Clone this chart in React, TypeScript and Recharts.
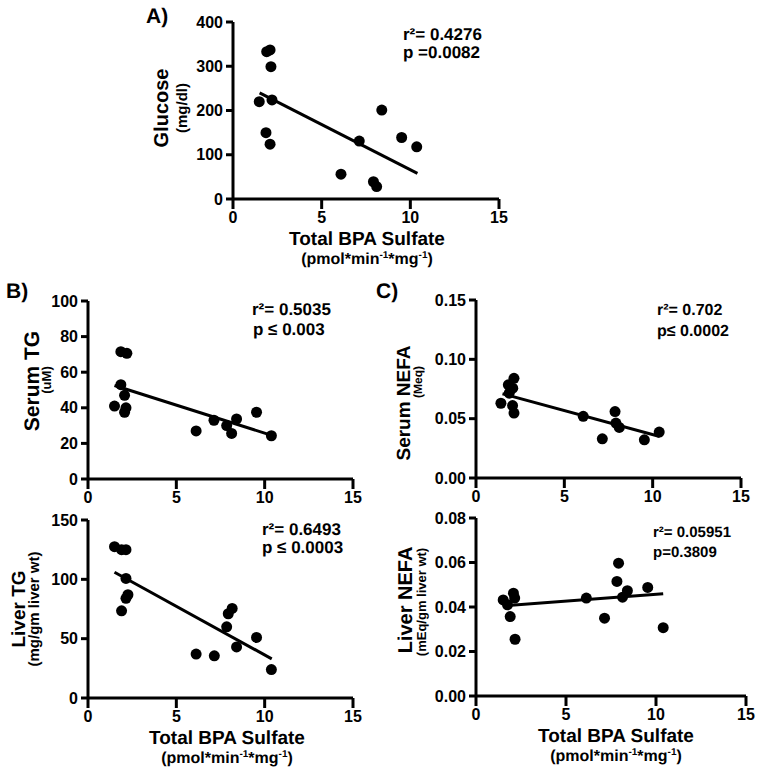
import React from 'react'
import { ScatterChart, Scatter, XAxis, YAxis } from 'recharts'

const FONT = '"Liberation Sans", Arial, Helvetica, sans-serif'

const xTicks = [0, 5, 10, 15]
const fitX = [1.5, 10.4]

// A) glucose
const glucoseX = [1.48, 1.86, 1.9, 2.09, 2.09, 2.14, 2.2, 6.09, 7.12, 7.92, 8.1, 8.39, 9.51, 10.36]
const glucoseY = [220, 150, 333, 337, 124, 299, 224, 56, 131, 39, 28, 201, 139, 118]
const glucoseFit = [240, 58]
const glucoseTicks = [0, 100, 200, 300, 400]

// B) serum TG
const serumTgX = [1.5, 1.86, 2.2, 1.86, 2.07, 2.15, 2.07, 6.12, 7.13, 7.85, 8.13, 8.41, 9.54, 10.38]
const serumTgY = [41, 71.5, 70.6, 53, 47, 40, 37.5, 27, 33, 30, 25.6, 33.7, 37.5, 24.3]
const serumTgFit = [52.5, 24.5]
const serumTgTicks = [0, 20, 40, 60, 80, 100]

// B) liver TG
const liverTgX = [1.5, 1.9, 2.15, 2.15, 1.9, 2.15, 2.26, 6.12, 7.15, 7.85, 7.94, 8.16, 8.41, 9.54, 10.38]
const liverTgY = [127.5, 125, 125, 100.8, 73.5, 84, 87, 37, 35.5, 60, 71, 75.5, 43, 51, 24]
const liverTgFit = [106, 33]
const liverTgTicks = [0, 50, 100, 150]

// C) serum NEFA
const serumNefaX = [1.41, 1.83, 2.15, 2.08, 1.88, 2.07, 2.15, 6.07, 7.15, 7.87, 7.92, 8.11, 9.53, 10.37]
const serumNefaY = [0.063, 0.0785, 0.084, 0.0757, 0.0715, 0.061, 0.0547, 0.052, 0.033, 0.056, 0.0463, 0.0426, 0.0322, 0.0387]
const serumNefaFit = [0.071, 0.035]
const serumNefaTicks = [0, 0.05, 0.1, 0.15]

// C) liver NEFA
const liverNefaX = [1.51, 1.75, 1.9, 2.08, 2.15, 2.17, 6.13, 7.14, 7.83, 7.92, 8.14, 8.41, 9.54, 10.4]
const liverNefaY = [0.0432, 0.041, 0.0357, 0.0462, 0.044, 0.0255, 0.044, 0.035, 0.0515, 0.0597, 0.0444, 0.0473, 0.0488, 0.0307]
const liverNefaFit = [0.0405, 0.046]
const liverNefaTicks = [0, 0.02, 0.04, 0.06, 0.08]

const toPoints = (xs: number[], ys: number[]) => xs.map((x, i) => ({ x, y: ys[i] }))

const Dot = (props: any) => <circle cx={props.cx} cy={props.cy} r={5.5} fill="#000" />
const NoDot = () => <g />

interface Box {
  left: number
  top: number
  width: number
  height: number
}

interface PanelProps {
  box: Box
  xs: number[]
  ys: number[]
  fit: number[]
  yTicks: number[]
  yFormat?: (v: number) => string
}

const Y_AXIS_W = 70
const X_AXIS_H = 40
const PAD_TOP = 10
const PAD_RIGHT = 14

function Panel({ box, xs, ys, fit, yTicks, yFormat }: PanelProps) {
  const width = box.width + Y_AXIS_W + PAD_RIGHT
  const height = box.height + PAD_TOP + X_AXIS_H
  const tickStyle = { fill: '#000', fontSize: 16, fontWeight: 700, fontFamily: FONT }
  const axisStroke = { stroke: '#000', strokeWidth: 3 }
  return (
    <div style={{ position: 'absolute', left: box.left - Y_AXIS_W, top: box.top - PAD_TOP, width, height }}>
      <ScatterChart width={width} height={height} margin={{ top: PAD_TOP, right: PAD_RIGHT, bottom: 0, left: 0 }}>
        <XAxis
          type="number"
          dataKey="x"
          domain={[0, 15]}
          ticks={xTicks}
          interval={0}
          height={X_AXIS_H}
          tickSize={10}
          tickMargin={3}
          axisLine={axisStroke}
          tickLine={axisStroke}
          tick={tickStyle}
        />
        <YAxis
          type="number"
          dataKey="y"
          domain={[yTicks[0], yTicks[yTicks.length - 1]]}
          ticks={yTicks}
          interval={0}
          width={Y_AXIS_W}
          tickSize={7}
          tickMargin={3}
          axisLine={axisStroke}
          tickLine={axisStroke}
          tick={tickStyle}
          tickFormatter={yFormat}
        />
        <Scatter
          data={toPoints(fitX, fit)}
          line={{ stroke: '#000', strokeWidth: 3 }}
          shape={NoDot}
          isAnimationActive={false}
        />
        <Scatter data={toPoints(xs, ys)} shape={Dot} isAnimationActive={false} />
      </ScatterChart>
    </div>
  )
}

const textBase = { fontFamily: FONT, fontWeight: 700, fill: '#000', textRendering: 'geometricPrecision' as const }

function HText({ x, y, size, anchor = 'start', children }: any) {
  return (
    <text x={x} y={y} fontSize={size} textAnchor={anchor} {...textBase}>
      {children}
    </text>
  )
}

function VText({ x, y, size, children }: any) {
  return (
    <text x={0} y={0} transform={`translate(${x},${y}) rotate(-90)`} fontSize={size} textAnchor="middle" {...textBase}>
      {children}
    </text>
  )
}

function XTitle({ x, y }: { x: number; y: number }) {
  return (
    <>
      <HText x={x} y={y} size={19} anchor="middle">Total BPA Sulfate</HText>
      <HText x={x} y={y + 19} size={16} anchor="middle">
        (pmol*min<tspan dy={-6} fontSize={10}>-1</tspan>
        <tspan dy={6}>*mg</tspan>
        <tspan dy={-6} fontSize={10}>-1</tspan>
        <tspan dy={6}>)</tspan>
      </HText>
    </>
  )
}

const fmt2 = (v: number) => v.toFixed(2)

export default function App() {
  return (
    <div style={{ position: 'absolute', left: 0, top: 0, width: 762, height: 775, background: '#fff' }}>
      <Panel box={{ left: 233, top: 22, width: 266, height: 177 }} xs={glucoseX} ys={glucoseY} fit={glucoseFit} yTicks={glucoseTicks} />
      <Panel box={{ left: 88, top: 301, width: 265, height: 178 }} xs={serumTgX} ys={serumTgY} fit={serumTgFit} yTicks={serumTgTicks} />
      <Panel box={{ left: 88, top: 520, width: 265, height: 178 }} xs={liverTgX} ys={liverTgY} fit={liverTgFit} yTicks={liverTgTicks} />
      <Panel box={{ left: 476, top: 300, width: 265, height: 178 }} xs={serumNefaX} ys={serumNefaY} fit={serumNefaFit} yTicks={serumNefaTicks} yFormat={fmt2} />
      <Panel box={{ left: 476, top: 518, width: 270, height: 178 }} xs={liverNefaX} ys={liverNefaY} fit={liverNefaFit} yTicks={liverNefaTicks} yFormat={fmt2} />

      <svg width={762} height={775} style={{ position: 'absolute', left: 0, top: 0, pointerEvents: 'none' }}>
        {/* A */}
        <HText x={146} y={23} size={21}>A)</HText>
        <VText x={168} y={108} size={20}>Glucose</VText>
        <VText x={187} y={108} size={15}>(mg/dl)</VText>
        <HText x={403} y={40} size={17}>r²= 0.4276</HText>
        <HText x={403} y={58} size={17}>p =0.0082</HText>
        <XTitle x={367} y={245} />

        {/* B */}
        <HText x={6} y={298} size={21}>B)</HText>
        <VText x={39} y={381} size={21}>Serum TG</VText>
        <VText x={51} y={380} size={13}>(uM)</VText>
        <HText x={252} y={315} size={17}>r²= 0.5035</HText>
        <HText x={253} y={335} size={17}>p ≤ 0.003</HText>
        <VText x={25} y={609} size={19}>Liver TG</VText>
        <VText x={39} y={609} size={15}>(mg/gm liver wt)</VText>
        <HText x={262} y={535} size={17}>r²= 0.6493</HText>
        <HText x={262} y={553} size={17}>p ≤ 0.0003</HText>
        <XTitle x={227} y={744} />

        {/* C */}
        <HText x={376} y={298} size={21}>C)</HText>
        <VText x={410} y={403} size={19}>Serum NEFA</VText>
        <VText x={422} y={382} size={12}>(Meq)</VText>
        <HText x={657} y={315} size={16}>r²= 0.702</HText>
        <HText x={657} y={336} size={16}>p≤ 0.0002</HText>
        <VText x={412} y={600} size={20}>Liver NEFA</VText>
        <VText x={426} y={602} size={13}>(mEq/gm liver wt)</VText>
        <HText x={653} y={537} size={15}>r²= 0.05951</HText>
        <HText x={653} y={557} size={15}>p=0.3809</HText>
        <XTitle x={616} y={742} />
      </svg>
    </div>
  )
}
